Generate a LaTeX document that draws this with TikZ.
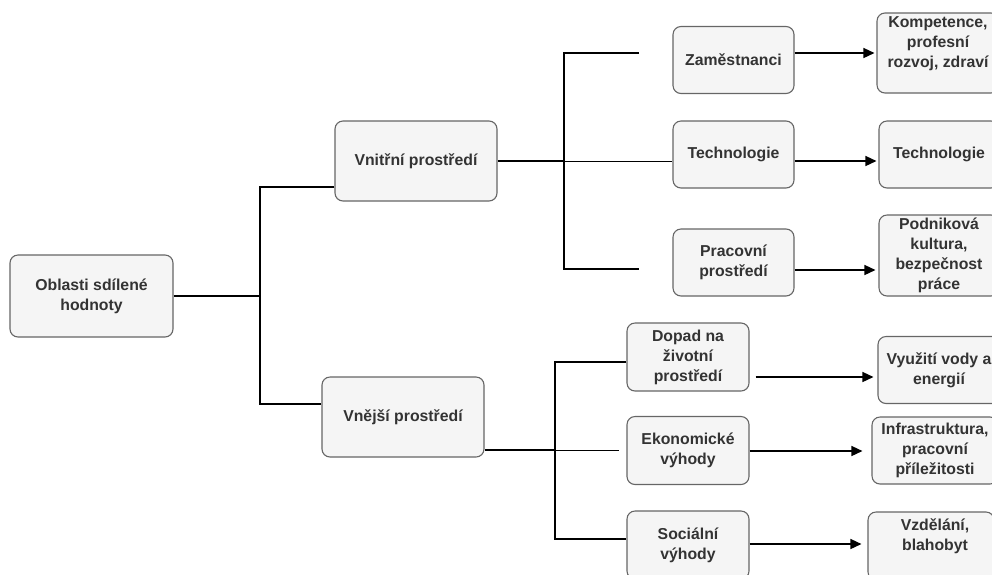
\documentclass[tikz,border=0pt]{standalone}
\usepackage{fontspec}
\setmainfont{Liberation Sans}
\usetikzlibrary{arrows.meta}
\definecolor{boxfill}{HTML}{F5F5F5}
\definecolor{boxline}{HTML}{666666}
\definecolor{boxtext}{HTML}{333333}
\tikzset{
  txt/.style={text=boxtext, font=\fontsize{15.8}{20}\selectfont\bfseries, align=center, inner sep=0pt},
  box/.style={txt, draw=boxline, fill=boxfill, rounded corners=8pt, line width=1.1pt,
    minimum width=121pt, minimum height=67pt},
  conn/.style={line width=2.2pt},
  thinline/.style={line width=0.8pt},
  arr/.style={line width=1.4pt, -{Triangle[length=11pt,width=10pt]}}
}
\begin{document}
\begin{tikzpicture}[x=1pt,y=-1pt]
   \useasboundingbox (0,0) rectangle (992,574);
   \clip (0,0) rectangle (992,574);

   \node[box, minimum width=163pt, minimum height=82pt] (root) at (91.5,296) {Oblasti sdílené\\hodnoty};
   \node[box, minimum width=162pt, minimum height=80pt] (vnitr) at (416,161) {Vnitřní prostředí};
   \node[box, minimum width=162pt, minimum height=80pt] (vnejsi) at (403,417) {Vnější prostředí};

   \node[box] (zam) at (733.5,60) {Zaměstnanci};
   \node[box] (tech) at (733.5,154.5) {Technologie};
   \node[box] (prac) at (733.5,262.5) {Pracovní\\prostředí};
   \node[box, minimum width=122pt, minimum height=68pt] (dopad) at (688,357) {Dopad na\\životní\\prostředí};
   \node[box, minimum width=122pt, minimum height=68pt] (ekon) at (688,450.5) {Ekonomické\\výhody};
   \node[box, minimum width=122pt, minimum height=68pt] (soc) at (688,545) {Sociální\\výhody};

   \node[box, minimum width=122pt, minimum height=80pt] (komp) at (938,53) {};
   \node[txt] (kompt) at (938,44) {Kompetence,\\profesní\\rozvoj, zdraví};
   \node[box, minimum width=120pt] (tech2) at (939,154.5) {Technologie};
   \node[box, minimum width=120pt, minimum height=81pt] (podn) at (939,255.5) {Podniková\\kultura,\\bezpečnost\\práce};
   \node[box, minimum width=122pt] (vyuz) at (939,370) {Využití vody a\\energií};
   \node[box, minimum width=126pt] (infra) at (935,450.5) {Infrastruktura,\\pracovní\\příležitosti};
   \node[box, minimum width=126pt, minimum height=68pt] (vzdel) at (931,546) {};
   \node[txt] (vzdelt) at (935,536) {Vzdělání,\\blahobyt};

   \coordinate (j1) at (260,296);
   \coordinate (j2) at (564,161);
   \coordinate (j3) at (555,450);
   \coordinate (e1) at (639,53);
   \coordinate (e2) at (639,269);
   \coordinate (e3) at (619,450);

   \draw[conn] (root.east) -- (j1);
   \draw[conn] (vnitr.west |- 0,187) -| (j1) |- (vnejsi.west |- 0,404);

   \draw[conn] (vnitr.east) -- (j2);
   \draw[conn] (e1) -| (j2) |- (e2);
   \draw[thinline] (j2) -- (tech.west |- j2);

   \draw[conn] (vnejsi.east |- j3) -- (j3);
   \draw[conn] (dopad.west |- 0,362) -| (j3) |- (soc.west |- 0,539);
   \draw[thinline] (j3) -- (e3);

   \draw[arr, shorten >=2pt] (zam.east |- 0,53) -- (komp.west |- 0,53);
   \draw[arr, shorten >=2pt] (tech.east |- 0,161) -- (tech2.west |- 0,161);
   \draw[arr, shorten >=3pt] (prac.east |- 0,270) -- (podn.west |- 0,270);
   \draw[arr, shorten <=6pt, shorten >=4pt] (dopad.east |- 0,377) -- (vyuz.west |- 0,377);
   \draw[arr, shorten >=9pt] (ekon.east |- 0,451) -- (infra.west |- 0,451);
   \draw[arr, shorten >=6pt] (soc.east |- 0,544) -- (vzdel.west |- 0,544);
\end{tikzpicture}
\end{document}
